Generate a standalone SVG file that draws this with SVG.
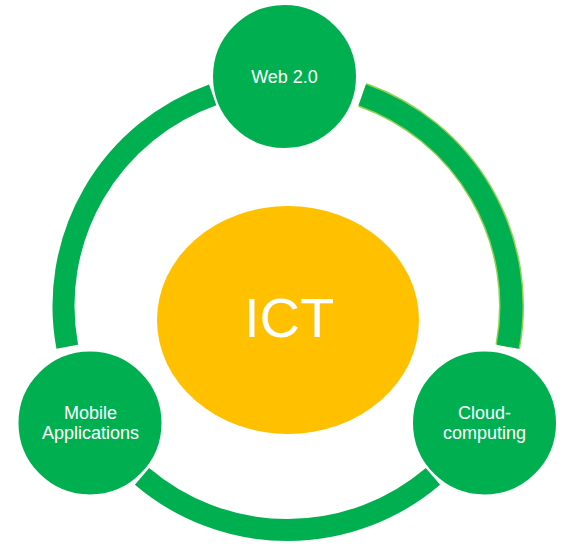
<svg xmlns="http://www.w3.org/2000/svg" width="563" height="544" viewBox="0 0 563 544">
<style>
.arc{fill:none;stroke:#00B050;stroke-width:22;stroke-linecap:butt}
.arc-edge{fill:none;stroke:#92D050;stroke-width:25;stroke-linecap:butt}
.node{fill:#00B050;stroke:#FFFFFF;stroke-width:2}
.lbl{font-family:"Liberation Sans",Arial,sans-serif;font-size:18px;fill:#FFFFFF;text-anchor:middle}
.core{font-family:"Liberation Sans",Arial,sans-serif;font-size:56px;fill:#FFFFFF;text-anchor:middle}
</style>
<rect width="563" height="544" fill="#FFFFFF"/>
<g id="connectors">
<path class="arc" d="M67.25,346.82 A224,224 0 0 1 212.73,94.85"/>
<path class="arc-edge" d="M362.27,94.85 A224,224 0 0 1 507.75,346.82"/>
<path class="arc" d="M362.27,94.85 A224,224 0 0 1 507.75,346.82"/>
<path class="arc" d="M432.98,476.33 A224,224 0 0 1 142.02,476.33"/>
</g>
<g id="ict">
<ellipse cx="288" cy="320" rx="131" ry="114" fill="#FFC000"/>
<text class="core" x="289" y="337">ICT</text>
</g>
<g id="web20">
<circle class="node" cx="284.5" cy="76.5" r="72.5"/>
<text class="lbl" x="284.5" y="83">Web 2.0</text>
</g>
<g id="mobile">
<circle class="node" cx="90" cy="423" r="72.5"/>
<text class="lbl" x="90.5" y="419">Mobile</text>
<text class="lbl" x="90.5" y="438.5">Applications</text>
</g>
<g id="cloud">
<circle class="node" cx="484.5" cy="423" r="72.5"/>
<text class="lbl" x="484.5" y="419">Cloud-</text>
<text class="lbl" x="484.5" y="438.5">computing</text>
</g>
</svg>
